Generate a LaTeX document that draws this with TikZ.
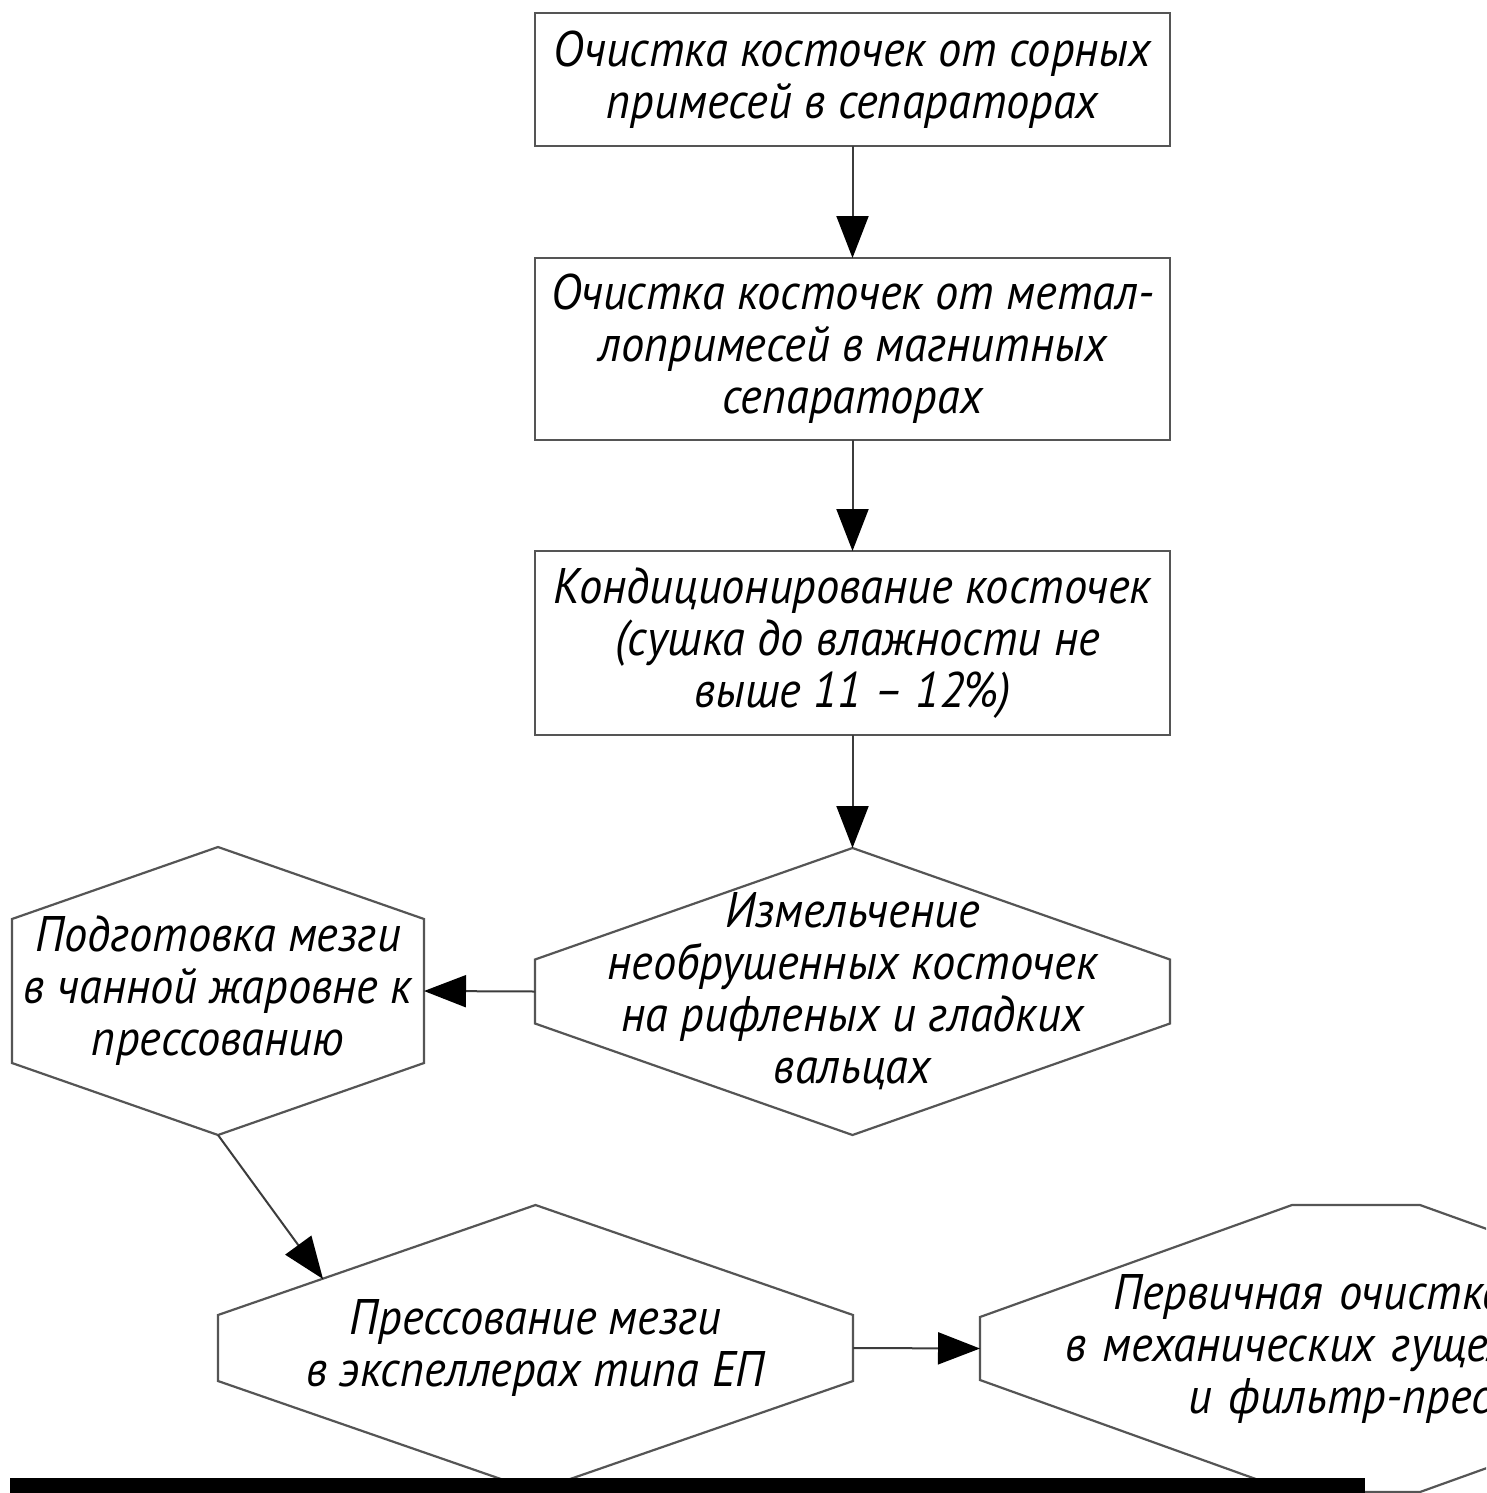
\documentclass[tikz,border=0pt]{standalone}
\usepackage{fontspec}
\newfontfamily\gostfont{PT Sans}[FakeStretch=0.93, Ligatures=TeX]
\usepackage{tikz}
\usetikzlibrary{arrows.meta, calc, positioning}

\definecolor{frameline}{RGB}{85, 85, 85}
\definecolor{flowline}{RGB}{60, 60, 60}

\tikzset{
  stagebox/.style={draw=frameline, line width=2.4pt, minimum width=635pt, inner sep=0pt, outer sep=0pt, align=center, font=\gostfont\itshape\fontsize{50}{52}\selectfont},
  hextext/.style={inner sep=0pt, outer sep=0pt, align=center, font=\gostfont\itshape\fontsize{50}{52}\selectfont},
  hexline/.style={draw=frameline, line width=2.2pt, line join=miter},
  flow/.style={draw=flowline, line width=2pt, -{Triangle[length=42pt, width=32pt, color=black]}}
}

% hexagon round a text node, #2 = half of the vertical side
\newcommand{\hexround}[2]{%
  \draw[hexline] (#1.north) -- ($(#1.east)-(0,#2)$) -- ($(#1.east)+(0,#2)$) -- (#1.south)
    -- ($(#1.west)+(0,#2)$) -- ($(#1.west)-(0,#2)$) -- cycle;}

\begin{document}
\begin{tikzpicture}[x=1pt, y=-1pt]
  \useasboundingbox (0,0) rectangle (1486,1493);
  \clip (0,0) rectangle (1486,1493);
  \fill[white] (0,0) rectangle (1486,1493);

  % Cleaning stages
  \node[stagebox, minimum height=133pt] (box1) at (852.5, 79.5) {Очистка косточек от сорных\\примесей в сепараторах};
  \node[stagebox, minimum height=182pt] (box2) at (852.5, 349) {Очистка косточек от метал-\\лопримесей в магнитных\\сепараторах};
  \node[stagebox, minimum height=184pt] (box3) at (852.5, 643) {Кондиционирование косточек\\\hspace*{10pt}(сушка до влажности не\\выше 11 – 12\%)};

  % Milling and roasting
  \node[hextext, minimum width=635pt, minimum height=287pt] (hex4) at (852.5, 991.5) {Измельчение\\необрушенных косточек\\на рифленых и гладких\\вальцах};
  \hexround{hex4}{32}
  \node[hextext, minimum width=412pt, minimum height=288pt] (hex5) at (218, 991) {Подготовка мезги\\в чанной жаровне к\\прессованию};
  \hexround{hex5}{72}

  % Pressing
  \node[hextext, minimum width=635pt, minimum height=286pt] (hex6) at (535.5, 1348) {Прессование мезги\\в экспеллерах типа ЕП};
  \hexround{hex6}{33}

  % First oil cleaning (cut by the page edge)
  \node[hextext, align=left, text width=900pt, inner xsep=85pt, minimum height=287pt, anchor=west] (hex7) at (980, 1348.5) {\hspace*{48pt}Первичная очистка\\в механических гущеловушках\\\hspace*{123pt}и фильтр-прессах};
  \draw[hexline] (hex7.west) ++(0,-31.5) -- ++(312,-112) -- ++(128,0) -- ++(312,112) -- ++(0,63)
    -- ++(-312,112) -- ++(-128,0) -- ++(-312,-112) -- cycle;

  % Connectors
  \coordinate (tip6) at (323, 1279);
  \draw[flow] (box1) -- (box2);
  \draw[flow] (box2) -- (box3);
  \draw[flow] (box3) -- (hex4.north);
  \draw[flow] (hex4.west) -- (hex5.east);
  \draw[flow] (hex5.south) -- (tip6);
  \draw[flow] (hex6.east) -- (hex7.west);

  % Strip along the lower edge
  \fill[black] (10, 1478) rectangle (1365, 1493);
\end{tikzpicture}
\end{document}
